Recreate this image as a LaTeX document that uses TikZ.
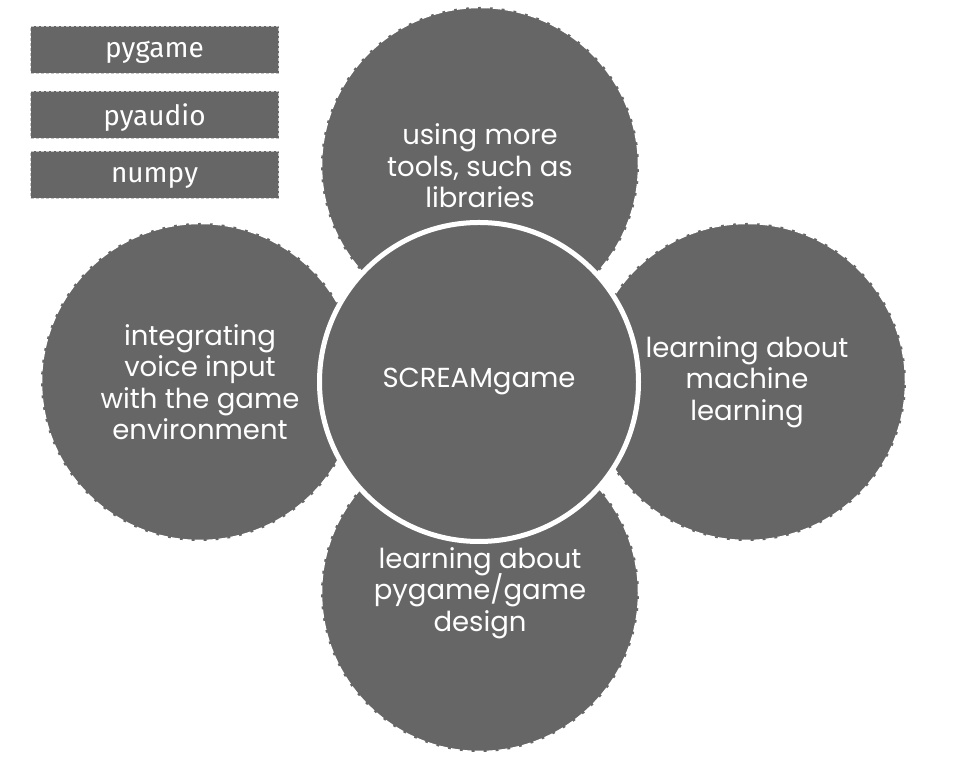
\documentclass[tikz,border=0pt]{standalone}
\usepackage{fontspec}
\setmainfont{Poppins}
\newfontfamily\tagfont{Fira Sans}
\usetikzlibrary{positioning}
\definecolor{bubblegray}{HTML}{666666}
\newcommand{\bubblefont}{\fontsize{27.5}{31.5}\selectfont\lineskiplimit=-20pt}
\tikzset{
	every node/.style={text=white, align=center}, % white text everywhere
	topic/.style={circle, fill=bubblegray, draw=white, line width=2.5pt, dash pattern=on 9pt off 3pt, minimum size=318pt, inner sep=0pt, font=\bubblefont}, % the outer bubbles
	hub/.style={circle, fill=bubblegray, draw=white, line width=5pt, minimum size=319pt, inner sep=0pt, font=\bubblefont}, % the middle bubble
	tag/.style={rectangle, fill=bubblegray, draw=gray!45, densely dashed, line width=0.8pt, minimum width=248pt, minimum height=47pt, font=\tagfont\fontsize{28}{32}\selectfont}, % the library boxes
}
\begin{document}
\begin{tikzpicture}[x=1pt,y=1pt]
	\useasboundingbox (0,0) rectangle (958,767);
	% outer bubbles first, the hub goes on top
	\node[topic] (tools) at (480,601){using more\\tools, such as\\libraries};
	\node[topic] (voice) at (200,385){integrating\\voice input\\with the game\\environment};
	\node[topic] (ml) at (747,385){learning about\\machine\\learning};
	\node[topic] (design) at (480,174){learning about\\pygame/game\\design};
	\node[hub] (scream) at (479,385){SCREAMgame};
	% libraries
	\node[tag,text depth=0pt] (pygame) at (154.5,717.5){pygame};
	\node[tag,text depth=0pt] (pyaudio) at (154.5,652){pyaudio};
	\node[tag,text depth=0pt] (numpy) at (154.5,592.5){numpy};
\end{tikzpicture}
\end{document}
